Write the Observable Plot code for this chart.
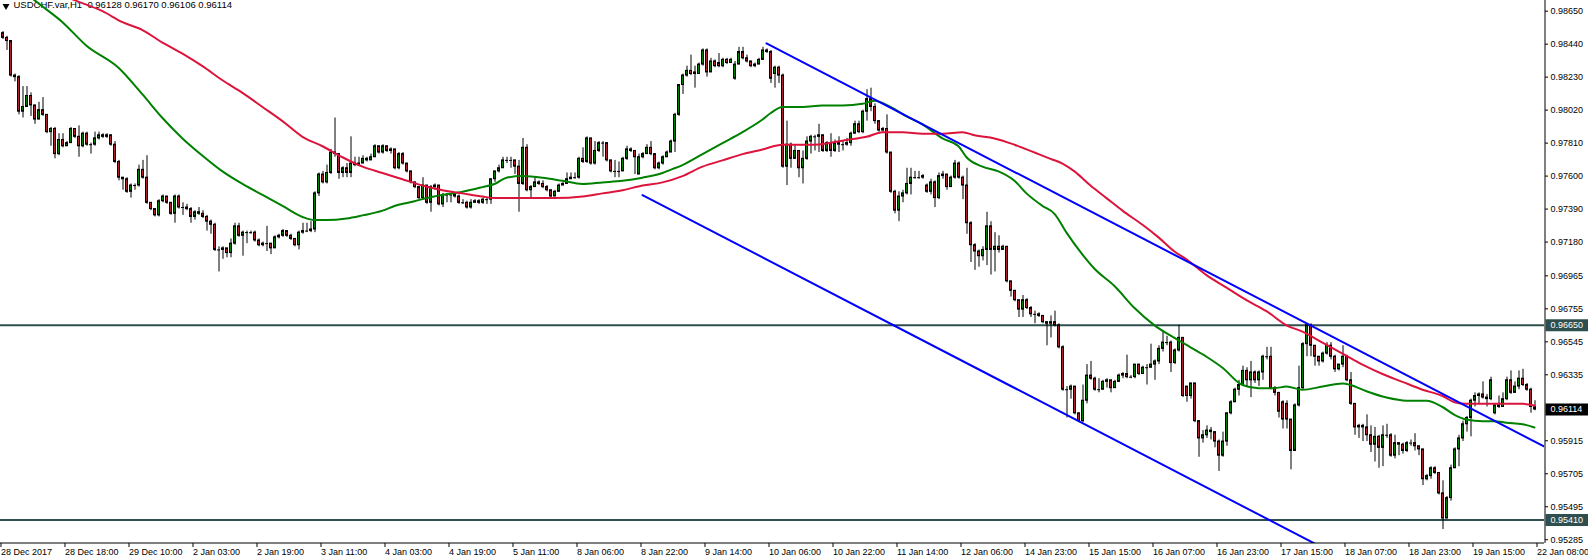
<!DOCTYPE html>
<html><head><meta charset="utf-8">
<script src="https://cdn.jsdelivr.net/npm/d3@7"></script>
<script src="https://cdn.jsdelivr.net/npm/@observablehq/plot@0.6"></script>
<style>
html,body{margin:0;padding:0;background:#fff;}
#chart svg{display:block;}
</style></head><body><div id="chart"></div>
<script>
// ---- candle data (H1 bars, index 0 = first visible bar) ----
const opens=[
.9851,.9848,.9846,.9824,.9823,.9801,.9804,.9811,.9805,.9796,.9802,.9799,.9788,.9790,.9774,.9783,
.9779,.9781,.9790,.9785,.9779,.9787,.9780,.9780,.9784,.9786,.9785,.9786,.9780,.9769,.9759,.9758,
.9750,.9754,.9754,.9764,.9759,.9743,.9739,.9735,.9744,.9747,.9743,.9736,.9747,.9740,.9740,.9739,
.9734,.9737,.9736,.9734,.9731,.9729,.9713,.9713,.9714,.9711,.9717,.9728,.9722,.9724,.9724,.9724,
.9719,.9716,.9717,.9717,.9714,.9721,.9722,.9725,.9722,.9720,.9716,.9724,.9725,.9725,.9726,.9749,
.9761,.9756,.9762,.9775,.9774,.9762,.9765,.9762,.9768,.9767,.9768,.9771,.9770,.9772,.9779,.9775,
.9779,.9776,.9777,.9765,.9774,.9768,.9763,.9756,.9753,.9746,.9754,.9743,.9753,.9754,.9742,.9748,
.9748,.9748,.9747,.9743,.9743,.9740,.9743,.9744,.9743,.9745,.9745,.9758,.9763,.9765,.9770,.9770,
.9770,.9766,.9755,.9778,.9751,.9753,.9756,.9755,.9753,.9751,.9747,.9750,.9754,.9755,.9758,.9759,
.9759,.9771,.9769,.9784,.9768,.9776,.9781,.9781,.9770,.9763,.9763,.9763,.9771,.9777,.9776,.9761,
.9772,.9774,.9778,.9774,.9765,.9768,.9772,.9775,.9782,.9799,.9818,.9824,.9827,.9826,.9825,.9831,
.9840,.9826,.9833,.9832,.9830,.9834,.9832,.9822,.9831,.9839,.9835,.9833,.9830,.9831,.9834,.9840,
.9839,.9825,.9829,.9824,.9766,.9780,.9771,.9776,.9765,.9771,.9782,.9785,.9785,.9786,.9776,.9781,
.9776,.9781,.9780,.9780,.9781,.9787,.9793,.9788,.9801,.9809,.9804,.9795,.9789,.9790,.9775,.9750,
.9738,.9747,.9749,.9755,.9759,.9759,.9759,.9754,.9750,.9756,.9746,.9760,.9761,.9753,.9759,.9768,
.9759,.9754,.9730,.9716,.9712,.9709,.9713,.9728,.9713,.9715,.9713,.9715,.9693,.9687,.9681,.9675,
.9681,.9676,.9672,.9672,.9671,.9667,.9666,.9667,.9665,.9651,.9624,.9624,.9626,.9609,.9604,.9617,
.9633,.9631,.9624,.9624,.9629,.9630,.9625,.9629,.9633,.9634,.9632,.9632,.9640,.9634,.9638,.9638,
.9640,.9642,.9650,.9654,.9654,.9641,.9649,.9657,.9626,.9620,.9628,.9604,.9593,.9595,.9598,.9597,
.9591,.9582,.9591,.9609,.9616,.9624,.9627,.9636,.9630,.9635,.9630,.9635,.9645,.9645,.9625,.9622,
.9616,.9615,.9605,.9585,.9614,.9625,.9653,.9665,.9652,.9645,.9642,.9647,.9652,.9645,.9637,.9640,
.9645,.9630,.9615,.9600,.9601,.9600,.9595,.9589,.9594,.9587,.9595,.9595,.9582,.9590,.9589,.9585,
.9590,.9590,.9588,.9586,.9567,.9569,.9574,.9571,.9558,.9542,.9555,.9574,.9586,.9593,.9602,.9606,
.9617,.9620,.9621,.9619,.9618,.9609,.9614,.9613,.9618,.9630,.9622,.9626,.9631,.9627,.9624,.96128];
const highs=[
.9852,.9849,.9842,.9825,.9824,.9817,.9817,.9813,.9805,.9807,.9810,.9799,.9791,.9791,.9787,.9787,
.9782,.9791,.9790,.9792,.9788,.9788,.9781,.9788,.9788,.9787,.9787,.9786,.9782,.9770,.9759,.9759,
.9755,.9755,.9767,.9770,.9773,.9743,.9739,.9745,.9748,.9747,.9743,.9748,.9748,.9743,.9742,.9740,
.9738,.9740,.9738,.9735,.9732,.9730,.9715,.9715,.9714,.9720,.9730,.9730,.9725,.9725,.9725,.9725,
.9720,.9718,.9728,.9717,.9722,.9723,.9726,.9725,.9723,.9720,.9725,.9730,.9730,.9731,.9750,.9762,
.9763,.9767,.9777,.9797,.9774,.9766,.9768,.9785,.9772,.9772,.9773,.9772,.9774,.9780,.9779,.9780,
.9779,.9778,.9777,.9775,.9775,.9768,.9763,.9756,.9753,.9759,.9754,.9754,.9755,.9754,.9749,.9749,
.9749,.9748,.9748,.9745,.9744,.9745,.9745,.9745,.9746,.9746,.9758,.9763,.9767,.9772,.9772,.9772,
.9770,.9770,.9784,.9780,.9754,.9759,.9757,.9757,.9754,.9751,.9751,.9755,.9756,.9762,.9762,.9762,
.9772,.9778,.9785,.9784,.9782,.9782,.9782,.9781,.9770,.9770,.9769,.9772,.9779,.9778,.9775,.9774,
.9775,.9780,.9782,.9774,.9769,.9773,.9776,.9783,.9800,.9818,.9825,.9830,.9837,.9830,.9832,.9841,
.9841,.9835,.9834,.9838,.9835,.9835,.9835,.9833,.9842,.9842,.9837,.9833,.9832,.9835,.9842,.9841,
.9840,.9830,.9830,.9825,.9795,.9781,.9780,.9776,.9776,.9785,.9786,.9786,.9793,.9786,.9782,.9787,
.9783,.9785,.9782,.9784,.9788,.9795,.9795,.9802,.9815,.9816,.9806,.9795,.9791,.9799,.9775,.9751,
.9750,.9751,.9765,.9765,.9763,.9763,.9761,.9755,.9758,.9757,.9762,.9763,.9761,.9760,.9770,.9769,
.9760,.9765,.9731,.9717,.9713,.9715,.9737,.9731,.9724,.9722,.9716,.9715,.9693,.9687,.9681,.9684,
.9682,.9677,.9674,.9673,.9671,.9667,.9671,.9674,.9666,.9652,.9626,.9627,.9626,.9609,.9627,.9640,
.9642,.9632,.9631,.9630,.9631,.9630,.9630,.9634,.9635,.9646,.9633,.9640,.9640,.9639,.9640,.9653,
.9643,.9652,.9661,.9658,.9655,.9650,.9665,.9657,.9626,.9628,.9628,.9604,.9598,.9601,.9600,.9597,
.9592,.9597,.9609,.9617,.9625,.9630,.9639,.9638,.9642,.9636,.9636,.9646,.9651,.9651,.9626,.9622,
.9617,.9617,.9605,.9615,.9639,.9654,.9666,.9666,.9652,.9645,.9648,.9654,.9654,.9646,.9640,.9652,
.9646,.9635,.9615,.9602,.9602,.9608,.9601,.9600,.9595,.9601,.9602,.9596,.9595,.9590,.9590,.9591,
.9592,.9596,.9588,.9586,.9570,.9575,.9575,.9571,.9566,.9556,.9576,.9587,.9595,.9604,.9607,.9618,
.9622,.9622,.9629,.9621,.9632,.9615,.9620,.9622,.9632,.9636,.9629,.9636,.9637,.9628,.9625,.96170];
const lows=[
.9847,.9840,.9823,.9820,.9799,.9797,.9804,.9798,.9793,.9796,.9798,.9787,.9779,.9771,.9773,.9778,
.9779,.9781,.9784,.9772,.9778,.9779,.9774,.9779,.9783,.9784,.9784,.9779,.9768,.9757,.9751,.9749,
.9746,.9751,.9753,.9758,.9742,.9738,.9734,.9734,.9743,.9742,.9735,.9730,.9739,.9735,.9738,.9730,
.9732,.9735,.9733,.9725,.9723,.9712,.9699,.9707,.9708,.9708,.9716,.9721,.9709,.9717,.9723,.9718,
.9715,.9715,.9712,.9710,.9714,.9720,.9721,.9721,.9719,.9715,.9713,.9723,.9724,.9724,.9724,.9747,
.9755,.9755,.9761,.9772,.9758,.9759,.9759,.9759,.9766,.9767,.9768,.9769,.9770,.9772,.9774,.9774,
.9775,.9774,.9764,.9764,.9767,.9762,.9755,.9752,.9745,.9745,.9742,.9737,.9751,.9741,.9740,.9743,
.9743,.9746,.9742,.9742,.9739,.9739,.9743,.9742,.9742,.9742,.9742,.9756,.9762,.9765,.9768,.9765,
.9761,.9737,.9754,.9750,.9746,.9753,.9754,.9752,.9750,.9746,.9747,.9750,.9754,.9755,.9758,.9758,
.9758,.9768,.9768,.9767,.9767,.9775,.9772,.9769,.9762,.9759,.9759,.9763,.9770,.9775,.9761,.9761,
.9771,.9774,.9773,.9764,.9764,.9767,.9772,.9775,.9775,.9798,.9812,.9823,.9824,.9816,.9825,.9830,
.9823,.9826,.9829,.9829,.9829,.9831,.9832,.9821,.9831,.9834,.9832,.9829,.9829,.9831,.9834,.9838,
.9819,.9816,.9819,.9765,.9754,.9765,.9771,.9759,.9755,.9770,.9774,.9776,.9775,.9775,.9775,.9772,
.9775,.9775,.9776,.9779,.9779,.9787,.9787,.9787,.9795,.9801,.9793,.9788,.9788,.9774,.9749,.9736,
.9731,.9743,.9748,.9748,.9758,.9758,.9758,.9749,.9748,.9740,.9745,.9758,.9751,.9753,.9758,.9758,
.9745,.9723,.9705,.9700,.9702,.9706,.9703,.9697,.9699,.9711,.9713,.9692,.9683,.9680,.9670,.9670,
.9675,.9670,.9666,.9670,.9666,.9652,.9657,.9664,.9650,.9623,.9606,.9618,.9608,.9603,.9603,.9615,
.9630,.9623,.9622,.9624,.9625,.9622,.9627,.9629,.9631,.9631,.9631,.9631,.9633,.9634,.9627,.9638,
.9630,.9640,.9648,.9652,.9635,.9640,.9648,.9619,.9616,.9618,.9603,.9581,.9590,.9593,.9592,.9587,
.9572,.9581,.9588,.9608,.9616,.9620,.9627,.9626,.9619,.9628,.9626,.9630,.9643,.9624,.9620,.9606,
.9599,.9599,.9573,.9585,.9613,.9624,.9645,.9645,.9639,.9639,.9641,.9646,.9643,.9635,.9636,.9638,
.9629,.9614,.9595,.9593,.9591,.9591,.9584,.9578,.9574,.9575,.9593,.9581,.9580,.9582,.9583,.9584,
.9588,.9585,.9582,.9563,.9566,.9567,.9570,.9557,.9535,.9542,.9553,.9574,.9575,.9591,.9597,.9594,
.9613,.9615,.9618,.9613,.9617,.9608,.9612,.9613,.9617,.9621,.9622,.9624,.9626,.9623,.9609,.96106];
const closes=[
.9848,.9846,.9824,.9823,.9801,.9804,.9811,.9805,.9796,.9802,.9799,.9788,.9790,.9774,.9783,.9779,
.9781,.9790,.9785,.9779,.9787,.9780,.9780,.9784,.9786,.9785,.9786,.9780,.9769,.9759,.9758,.9750,
.9754,.9754,.9764,.9759,.9743,.9739,.9735,.9744,.9747,.9743,.9736,.9747,.9740,.9740,.9739,.9734,
.9737,.9736,.9734,.9731,.9729,.9713,.9713,.9714,.9711,.9717,.9728,.9722,.9724,.9724,.9724,.9719,
.9716,.9717,.9717,.9714,.9721,.9722,.9725,.9722,.9720,.9716,.9724,.9725,.9725,.9726,.9749,.9761,
.9756,.9762,.9775,.9774,.9762,.9765,.9762,.9768,.9767,.9768,.9771,.9770,.9772,.9779,.9775,.9779,
.9776,.9777,.9765,.9774,.9768,.9763,.9756,.9753,.9746,.9754,.9743,.9753,.9754,.9742,.9748,.9748,
.9748,.9747,.9743,.9743,.9740,.9743,.9744,.9743,.9745,.9745,.9758,.9763,.9765,.9770,.9770,.9770,
.9766,.9755,.9778,.9751,.9753,.9756,.9755,.9753,.9751,.9747,.9750,.9754,.9755,.9758,.9759,.9759,
.9771,.9769,.9784,.9768,.9776,.9781,.9781,.9770,.9763,.9763,.9763,.9771,.9777,.9776,.9772,.9772,
.9774,.9778,.9774,.9765,.9768,.9772,.9775,.9782,.9799,.9818,.9824,.9827,.9825,.9825,.9831,.9840,
.9826,.9833,.9830,.9830,.9834,.9832,.9834,.9831,.9839,.9835,.9833,.9830,.9831,.9834,.9840,.9839,
.9822,.9829,.9824,.9766,.9780,.9771,.9776,.9765,.9771,.9782,.9785,.9785,.9786,.9776,.9781,.9776,
.9781,.9780,.9780,.9781,.9787,.9793,.9788,.9801,.9809,.9804,.9795,.9789,.9790,.9775,.9750,.9738,
.9747,.9749,.9755,.9759,.9759,.9759,.9760,.9750,.9756,.9746,.9760,.9761,.9753,.9759,.9768,.9759,
.9754,.9730,.9716,.9712,.9709,.9713,.9728,.9713,.9715,.9713,.9715,.9693,.9687,.9681,.9675,.9681,
.9676,.9672,.9672,.9671,.9667,.9666,.9667,.9665,.9651,.9624,.9624,.9626,.9609,.9604,.9617,.9633,
.9631,.9624,.9624,.9629,.9630,.9625,.9629,.9633,.9634,.9632,.9632,.9640,.9634,.9638,.9638,.9640,
.9642,.9650,.9654,.9654,.9641,.9649,.9657,.9620,.9620,.9628,.9604,.9593,.9595,.9598,.9597,.9591,
.9582,.9591,.9609,.9616,.9624,.9627,.9636,.9630,.9635,.9630,.9635,.9645,.9645,.9625,.9622,.9610,
.9605,.9605,.9585,.9614,.9625,.9653,.9665,.9652,.9645,.9642,.9647,.9652,.9645,.9637,.9640,.9645,
.9630,.9615,.9600,.9601,.9600,.9595,.9589,.9594,.9587,.9595,.9595,.9582,.9590,.9589,.9585,.9590,
.9590,.9588,.9586,.9567,.9569,.9574,.9571,.9558,.9542,.9555,.9574,.9586,.9593,.9602,.9606,.9617,
.9620,.9621,.9619,.9618,.9630,.9614,.9613,.9618,.9630,.9622,.9626,.9631,.9627,.9624,.9613,.96114];

// ---- moving averages ----
const greenMaBars=[0,8,15,21,29,35,40,45,50,55,60,65,70,75,78,81,86,90,95,98,103,106,110,115,120,123,126,130,135,140,145,150,155,160,165,167,170,175,180,185,190,192,195,200,205,210,215,218,222,226,230,235,239,241,245,249,253,256,260,263,266,270,273,278,283,288,293,297,301,305,310,314,318,321,325,330,335,337,341,346,351,356,360,363,366,370,373,376,380,383];
const greenMaValues=[.9890,.9872,.9858,.9843,.9829,.9812,.9797,.9784,.9773,.9763,.9755,.9748,.9741,.9734,.9732,.9732,.9733,.9735,.9738,.9741,.9744,.9746,.9748,.9750,.9753,.9755,.9759,.9760,.9759,.9757,.9755,.9756,.9757,.9759,.9762,.9764,.9767,.9774,.9781,.9788,.9796,.9800,.9804,.9804,.9805,.9805,.9806,.9808,.9804,.9798,.9793,.9784,.9779,.9772,.9766,.9763,.9757,.9749,.9741,.9736,.9724,.9710,.9701,.9690,.9676,.9665,.9657,.9651,.9645,.9638,.9627,.9625,.9625,.9626,.9624,.9626,.9628,.9627,.9623,.9619,.9617,.9617,.9613,.9608,.9605,.9604,.9604,.9603,.9602,.9600];
const redMaBars=[0,18,25,30,35,40,45,50,55,60,65,70,75,80,85,90,95,100,105,110,115,120,123,128,138,145,150,155,160,165,170,175,180,185,190,195,203,211,216,220,225,230,235,240,243,248,253,258,262,265,268,272,276,280,285,289,293,296,301,306,311,316,321,325,330,335,340,345,350,355,360,363,366,376,380,383];
const redMaValues=[.9892,.9872,.9865,.9858,.9853,.9845,.9838,.9830,.9821,.9813,.9804,.9795,.9785,.9779,.9772,.9766,.9762,.9758,.9754,.9751,.9749,.9747,.9746,.9746,.9746,.9747,.9749,.9751,.9754,.9756,.9760,.9766,.9770,.9774,.9777,.9780,.9780,.9783,.9785,.9788,.9788,.9787,.9787,.9788,.9786,.9784,.9780,.9775,.9771,.9768,.9763,.9754,.9746,.9738,.9729,.9721,.9712,.9707,.9697,.9689,.9681,.9674,.9665,.9661,.9654,.9647,.9640,.9634,.9629,.9624,.9620,.9616,.9615,.9615,.9615,.9614];

// ---- drawn objects ----
const trendUpperBars=[191,390];
const trendUpperValues=[0.98445,0.95818];
const trendLowerBars=[160,400];
const trendLowerValues=[0.97479,0.94311];
const levelValues=[0.96650,0.95410];
const lastPrice=0.96114;

// ---- axes ----
const priceTicks=[0.98650,0.98440,0.98230,0.98020,0.97810,0.97600,0.97390,0.97180,0.96965,0.96755,0.96545,0.96335,0.95915,0.95705,0.95495,0.95285];
const timeTickBars=[-1,15,31,47,63,79,95,111,127,143,159,175,191,207,223,239,255,271,287,303,319,335,351,367,383];
const timeTickLabels=["28 Dec 2017","28 Dec 18:00","29 Dec 10:00","2 Jan 03:00","2 Jan 19:00","3 Jan 11:00","4 Jan 03:00","4 Jan 19:00","5 Jan 11:00","8 Jan 06:00","8 Jan 22:00","9 Jan 14:00","10 Jan 06:00","10 Jan 22:00","11 Jan 14:00","12 Jan 06:00","14 Jan 23:00","15 Jan 15:00","16 Jan 07:00","16 Jan 23:00","17 Jan 15:00","18 Jan 07:00","18 Jan 23:00","19 Jan 15:00","22 Jan 08:00"];
const titleText="USDCHF.var,H1  0.96128 0.96170 0.96106 0.96114";

// ---- build ----
const candles=closes.map((c,i)=>({i,o:opens[i],h:highs[i],l:lows[i],c}));
const bodies=candles.filter(d=>d.o!==d.c);
const dojis=candles.filter(d=>d.o===d.c);
const greenMa=greenMaBars.map((b,k)=>({b,v:greenMaValues[k]}));
const redMa=redMaBars.map((b,k)=>({b,v:redMaValues[k]}));
const trendUpper=trendUpperBars.map((b,k)=>({b,v:trendUpperValues[k]}));
const trendLower=trendLowerBars.map((b,k)=>({b,v:trendLowerValues[k]}));
const tickLabelMap=new Map(timeTickBars.map((b,k)=>[b,timeTickLabels[k]]));
const boxes=[{v:levelValues[0],color:"#2F4F4F"},{v:lastPrice,color:"#000000"},{v:levelValues[1],color:"#2F4F4F"}];

const W=1588,H=560;
const xDomain=[-0.5,385.5];
const yDomain=[0.95261,0.98718];
const xEdge=(W-2)/4; // right edge of the picture in bar units

const BULL="#008000", BEAR="#B0202C";

const chart=Plot.plot({
  width:W,height:H,
  marginLeft:0,marginRight:44,marginTop:0,marginBottom:17,
  x:{domain:xDomain,axis:null},
  y:{domain:yDomain,axis:null},
  style:{fontFamily:"'Liberation Sans', Arial, sans-serif",fontSize:"9px",background:"#fff",color:"#000"},
  marks:[
    Plot.text([titleText],{text:d=>d,frameAnchor:"top-left",dx:13,dy:0.5,lineAnchor:"top",textAnchor:"start",fill:"#000",fontSize:9.5}),
    Plot.dot([0],{frameAnchor:"top-left",dx:5.5,dy:5.5,symbol:"triangle",r:2.6,fill:"#000",stroke:"none",rotate:180}),
    Plot.ruleY(levelValues,{stroke:"#2F4F4F",strokeWidth:2}),
    Plot.ruleX(candles,{x:"i",y1:"l",y2:"h",stroke:"#000",strokeWidth:1,dx:0.5}),
    Plot.rect(bodies,{x1:d=>d.i-0.25,x2:d=>d.i+0.25,y1:"o",y2:"c",dx:0.5,fill:d=>d.c>d.o?BULL:BEAR,stroke:"#000",strokeWidth:1}),
    Plot.ruleY(dojis,{y:"c",x1:d=>d.i-0.375,x2:d=>d.i+0.375,dx:0.5,stroke:"#000",strokeWidth:1}),
    Plot.line(greenMa,{x:"b",y:"v",stroke:"#008000",strokeWidth:2,curve:"monotone-x",clip:true}),
    Plot.line(redMa,{x:"b",y:"v",stroke:"#DC143C",strokeWidth:2,curve:"monotone-x",clip:true}),
    Plot.line(trendUpper,{x:"b",y:"v",stroke:"#0000FF",strokeWidth:2,clip:true}),
    Plot.line(trendLower,{x:"b",y:"v",stroke:"#0000FF",strokeWidth:2,clip:true}),
    Plot.ruleY([yDomain[0]],{stroke:"#000",strokeWidth:1,dy:-0.5}),
    Plot.ruleX([xDomain[1]],{stroke:"#000",strokeWidth:1,dx:0.5}),
    Plot.axisY({anchor:"right",ticks:priceTicks,tickFormat:d=>d.toFixed(5),tickSize:3,tickPadding:3,label:null,fontSize:9}),
    Plot.axisX({anchor:"bottom",ticks:timeTickBars,tickFormat:d=>tickLabelMap.get(d),tickSize:4,tickPadding:1,textAnchor:"start",dx:2.5,label:null,fontSize:9}),
    Plot.ruleY(boxes,{y:"v",x1:()=>xDomain[1],x2:()=>xEdge,dx:1.5,stroke:"color",strokeWidth:12}),
    Plot.text(boxes,{y:"v",x:()=>xDomain[1],dx:6,text:d=>d.v.toFixed(5),fill:"#fff",textAnchor:"start",fontSize:9})
  ]
});
document.getElementById("chart").appendChild(chart);
</script>
</body></html>
